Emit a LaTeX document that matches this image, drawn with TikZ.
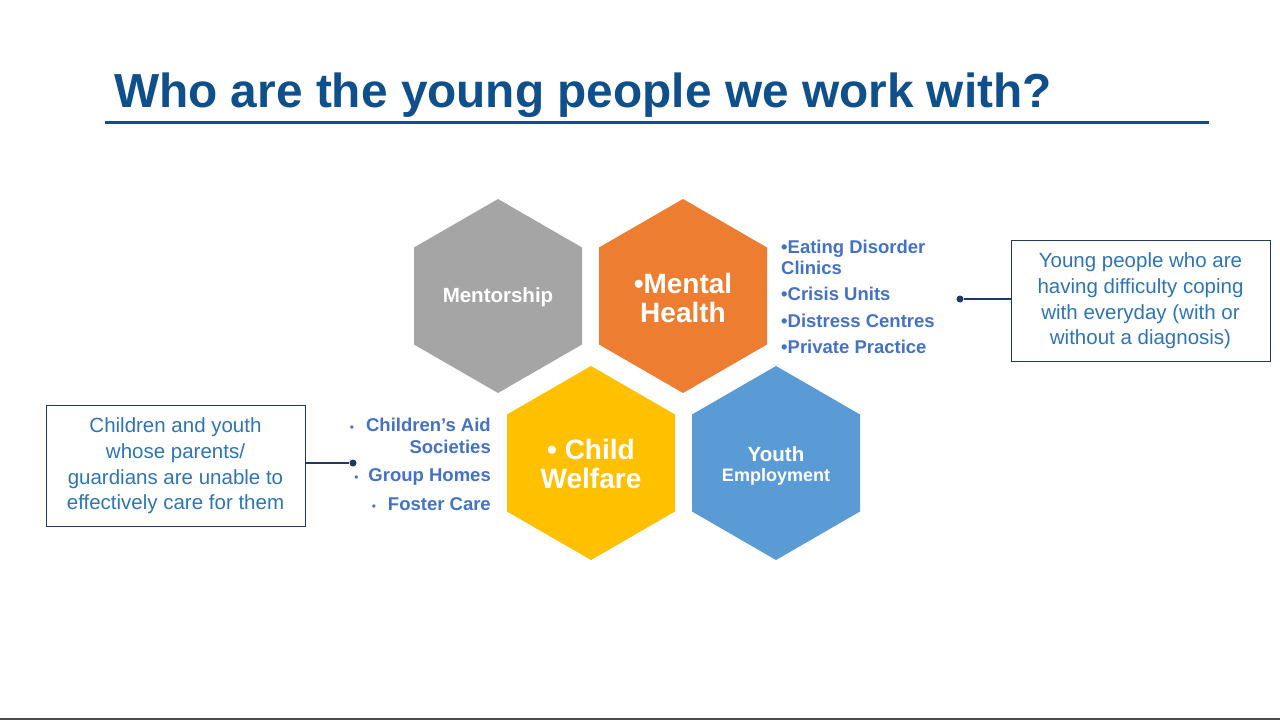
\documentclass[tikz,border=0pt]{standalone}
\usepackage{fontspec}
\setmainfont{Liberation Sans}
\definecolor{titleblue}{HTML}{0E4F8C}
\definecolor{listblue}{HTML}{4472C4}
\definecolor{boxtext}{HTML}{2E75B6}
\definecolor{navy}{HTML}{1F3864}
\definecolor{hgray}{HTML}{A5A5A5}
\definecolor{horange}{HTML}{ED7D31}
\definecolor{hyellow}{HTML}{FFC000}
\definecolor{hblue}{HTML}{5B9BD5}
\begin{document}
\begin{tikzpicture}[x=1pt,y=-1pt,
  hexlab/.style={text=white,font=\bfseries,align=center,inner sep=0pt},
  lst/.style={text=listblue,font=\fontsize{18.5}{22}\selectfont\bfseries,inner sep=0pt},
  callout/.style={draw=navy,line width=1pt,text=boxtext,align=center,font=\fontsize{20.5}{25.6}\selectfont,minimum width=259pt,minimum height=121pt,inner sep=2pt},
  conn/.style={navy,line width=1.2pt},
  dot/.style={circle,fill=navy,inner sep=0pt,minimum size=7pt}]
\useasboundingbox (0,0) rectangle (1280,720);
\fill[white] (0,0) rectangle (1280,720);
\newcommand{\hexa}[3]{\fill[#3] (#1,#2) ++(0,-97) -- ++(84,48.5) -- ++(0,97) -- ++(-84,48.5) -- ++(-84,-48.5) -- ++(0,-97) -- cycle;}
\node[anchor=base west,text=titleblue,font=\fontsize{47.8}{56}\selectfont\bfseries,inner sep=0pt] (title) at (114,107) {Who are the young people we work with?};
\draw[titleblue,line width=3pt] (105,122) -- (1209,122);
\hexa{498}{296}{hgray}
\hexa{683}{296}{horange}
\hexa{591}{463}{hyellow}
\hexa{776}{463}{hblue}
\node[hexlab,font=\fontsize{20.5}{24}\selectfont\bfseries] (ment) at (498,297) {Mentorship};
\node[hexlab,font=\fontsize{28}{29.5}\selectfont\bfseries] (mh) at (683,298) {•Mental\\Health};
\node[hexlab,font=\fontsize{28}{29.5}\selectfont\bfseries] (cw) at (591,464) {• Child\\Welfare};
\node[hexlab,font=\fontsize{20.5}{22}\selectfont\bfseries] (ye1) at (776,454) {Youth};
\node[hexlab,font=\fontsize{18}{22}\selectfont\bfseries] (ye2) at (776,477) {Employment};
\node[lst,anchor=base west] (l1) at (781,253) {•Eating Disorder};
\node[lst,anchor=base west] (l2) at (781,274) {Clinics};
\node[lst,anchor=base west] (l3) at (781,300) {•Crisis Units};
\node[lst,anchor=base west] (l4) at (781,327) {•Distress Centres};
\node[lst,anchor=base west] (l5) at (781,353) {•Private Practice};
\node[lst,anchor=base east] (r1) at (491,431) {{\normalfont\large•}\hspace{12pt}Children’s Aid};
\node[lst,anchor=base east] (r2) at (491,453) {Societies};
\node[lst,anchor=base east] (r3) at (491,481) {{\normalfont\large•}\hspace{10pt}Group Homes};
\node[lst,anchor=base east] (r4) at (491,510) {{\normalfont\large•}\hspace{12pt}Foster Care};
\node[callout] (rb) at (1140.5,301) {Young people who are\\having difficulty coping\\with everyday (with or\\without a diagnosis)};
\node[callout] (lb) at (175.5,466) {Children and youth\\whose parents/\\guardians are unable to\\effectively care for them};
\node[dot] (d1) at (960,299) {};
\node[dot] (d2) at (353,463) {};
\draw[conn] (d1) -- (rb.west|-d1);
\draw[conn] (lb.east|-d2) -- (d2);
\draw[gray!60!black,line width=1.5pt] (0,719) -- (1280,719);
\end{tikzpicture}
\end{document}
